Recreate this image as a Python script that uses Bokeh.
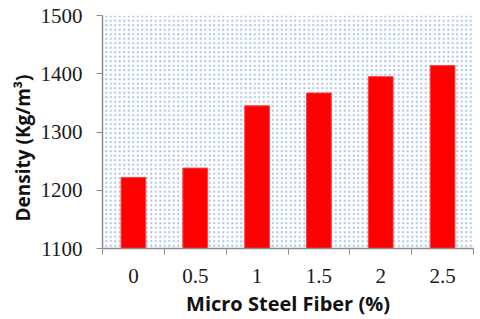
from bokeh.plotting import figure
from bokeh.models import FixedTicker, BoxAnnotation, Range1d, Title
from bokeh.embed import file_html
from bokeh.resources import INLINE

categories = ["0", "0.5", "1", "1.5", "2", "2.5"]
density = [1222, 1238, 1345, 1367, 1395, 1414]
y_ticks = [1100, 1200, 1300, 1400, 1500]
x_title = "Micro Steel Fiber (%)"
y_title = "Density (Kg/m³)"

n = len(categories)
centers = [i + 0.5 for i in range(n)]

p = figure(width=480, height=319, output_backend="svg", toolbar_location=None,
           x_range=Range1d(0, n), y_range=Range1d(1100, 1500),
           min_border_left=102, min_border_right=7, min_border_top=15, min_border_bottom=69)
p.outline_line_color = None
p.xgrid.visible = False
p.ygrid.visible = False
p.background_fill_color = "white"
p.border_fill_color = "white"

p.add_layout(BoxAnnotation(fill_color=None, line_color=None, hatch_pattern=".",
                           hatch_color="#6f9ad8", hatch_scale=4.5, hatch_alpha=0.6,
                           level="underlay"))

p.vbar(x=centers, top=density, bottom=1100, width=0.4, fill_color="#ff0000",
       line_color="#ff4040", line_width=1)

p.xaxis.ticker = FixedTicker(ticks=centers, minor_ticks=list(range(n + 1)))
p.xaxis.major_label_overrides = {c: lab for c, lab in zip(centers, categories)}
p.xaxis.major_tick_line_color = None
p.xaxis.minor_tick_line_color = "#8c8c8c"
p.xaxis.minor_tick_out = 6
p.xaxis.minor_tick_in = 0
p.xaxis.axis_line_color = "#8c8c8c"
p.xaxis.axis_line_width = 1.5
p.xaxis.major_label_standoff = 14
p.xaxis.axis_label = x_title
p.xaxis.axis_label_text_font = "Open Sans"
p.xaxis.axis_label_text_font_style = "bold"
p.xaxis.axis_label_text_font_size = "20px"
p.xaxis.axis_label_text_color = "#111111"
p.xaxis.axis_label_standoff = 4

p.yaxis.ticker = FixedTicker(ticks=y_ticks)
p.yaxis.major_tick_line_color = "#8c8c8c"
p.yaxis.major_tick_out = 6
p.yaxis.major_tick_in = 0
p.yaxis.minor_tick_line_color = None
p.yaxis.axis_line_color = "#8c8c8c"
p.yaxis.axis_line_width = 1.5
p.yaxis.major_label_standoff = 14

for ax in (p.xaxis, p.yaxis):
    ax.major_label_text_font = "Liberation Serif"
    ax.major_label_text_font_size = "21px"
    ax.major_label_text_color = "#1a1a1a"

p.add_layout(Title(text=y_title, text_font="Open Sans", text_font_style="bold",
                   text_font_size="19px", text_color="#111111", align="left",
                   offset=27, standoff=4), "left")

open("out.html", "w").write(file_html(p, INLINE))
